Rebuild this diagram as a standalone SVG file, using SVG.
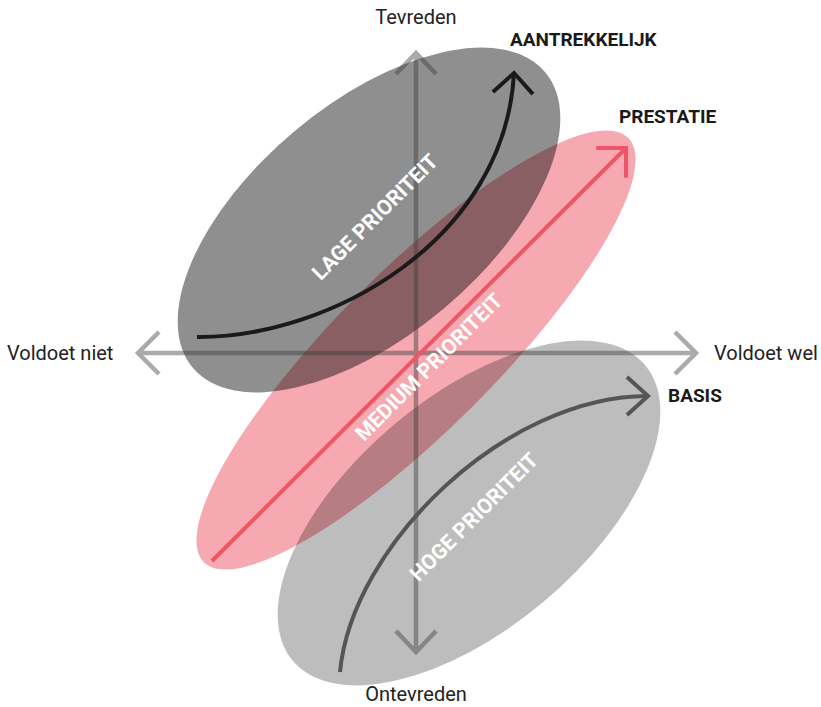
<svg xmlns="http://www.w3.org/2000/svg" width="821" height="707" viewBox="0 0 821 707">
<style>
.axis{fill:none;stroke:#3d3d3d;stroke-width:4.5}
.lbl{font-family:Roboto,"Liberation Sans",sans-serif;font-size:20px;fill:#222}
.tag{font-family:Roboto,"Liberation Sans",sans-serif;font-size:19px;font-weight:bold;fill:#1a1a1a}
.inner{font-family:Roboto,"Liberation Sans",sans-serif;font-size:21px;font-weight:bold;fill:#fff;text-anchor:middle}
.curve{fill:none;stroke-width:4}
</style>
<defs>
<marker id="hBlack" markerUnits="userSpaceOnUse" markerWidth="60" markerHeight="60" viewBox="-30 -30 60 60" refX="0" refY="0" orient="auto">
<path d="M-20,-20 L0,0 L-20,20" fill="none" stroke="#1a1a1a" stroke-width="4"/>
</marker>
<marker id="hRed" markerUnits="userSpaceOnUse" markerWidth="60" markerHeight="60" viewBox="-30 -30 60 60" refX="0" refY="0" orient="auto">
<path d="M-21,-21 L0,0 L-21,21" fill="none" stroke="#ef5567" stroke-width="4"/>
</marker>
<marker id="hGray" markerUnits="userSpaceOnUse" markerWidth="60" markerHeight="60" viewBox="-30 -30 60 60" refX="0" refY="0" orient="auto">
<path d="M-21,-19 L0,0 L-21,19" fill="none" stroke="#555" stroke-width="4"/>
</marker>
</defs>

<g id="medium">
<ellipse cx="416" cy="350" rx="300" ry="80" transform="rotate(-45 416 350)" fill="#eb404f" fill-opacity="0.45"/>
</g>
<g id="lage">
<ellipse cx="369" cy="220" rx="230" ry="116" transform="rotate(-40 369 220)" fill="#000" fill-opacity="0.44"/>
</g>
<g id="hoge">
<ellipse cx="469" cy="513" rx="230" ry="116" transform="rotate(-40 469 513)" fill="#000" fill-opacity="0.26"/>
</g>

<g id="axes" opacity="0.44">
<path class="axis" d="M416,54 V651 M396,74 L416,53 L436,74 M396,631 L416,652 L436,631"/>
<path class="axis" d="M139,353 H695 M159,332 L138,353 L159,374 M675,332 L696,353 L675,374"/>
</g>

<g id="connectors">
<path class="curve" stroke="#1a1a1a" d="M197,337 C330,338 505,240 514,73" marker-end="url(#hBlack)"/>
<path class="curve" stroke="#ef5567" d="M212,561 L626,148" marker-end="url(#hRed)"/>
<path class="curve" stroke="#555" d="M340,672 C352,545 505,396 648,396" marker-end="url(#hGray)"/>
</g>

<g id="labels">
<text class="lbl" x="416" y="24" text-anchor="middle">Tevreden</text>
<text class="lbl" x="416" y="701" text-anchor="middle">Ontevreden</text>
<text class="lbl" x="7" y="360">Voldoet niet</text>
<text class="lbl" x="714" y="360">Voldoet wel</text>
<text class="tag" x="510" y="46">AANTREKKELIJK</text>
<text class="tag" x="619" y="123">PRESTATIE</text>
<text class="tag" x="668" y="402">BASIS</text>
<text class="inner" transform="translate(380 222) rotate(-45)">LAGE PRIORITEIT</text>
<text class="inner" transform="translate(434 372) rotate(-45)">MEDIUM PRIORITEIT</text>
<text class="inner" transform="translate(479 522) rotate(-45)">HOGE PRIORITEIT</text>
</g>
</svg>
